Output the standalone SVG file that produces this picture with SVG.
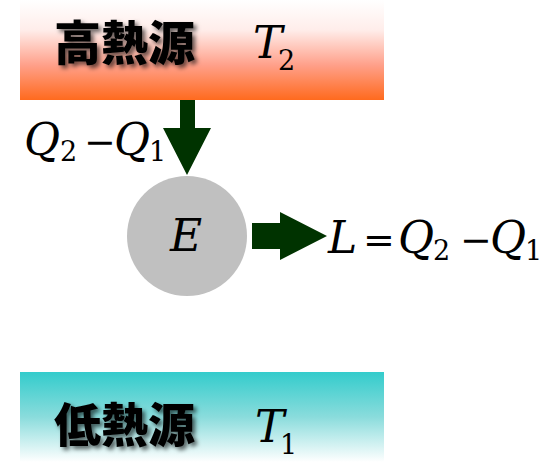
<svg xmlns="http://www.w3.org/2000/svg" width="548" height="462" viewBox="0 0 548 462">
<defs>
<linearGradient id="hot" x1="0" y1="0" x2="0" y2="1">
<stop offset="0" stop-color="#FFFFFF"/>
<stop offset="0.3" stop-color="#FFEDEA"/>
<stop offset="0.65" stop-color="#FFA08A"/>
<stop offset="1" stop-color="#FF6A1E"/>
</linearGradient>
<linearGradient id="cold" x1="0" y1="0" x2="0" y2="1">
<stop offset="0" stop-color="#33CCCC"/>
<stop offset="0.5" stop-color="#8ADCDC"/>
<stop offset="1" stop-color="#FFFFFF"/>
</linearGradient>
<filter id="sh" x="-10%" y="-20%" width="130%" height="150%">
<feGaussianBlur in="SourceAlpha" stdDeviation="2"/>
<feOffset dx="3" dy="3" result="b"/>
<feFlood flood-color="#000" flood-opacity="0.6"/>
<feComposite in2="b" operator="in"/>
<feMerge><feMergeNode/><feMergeNode in="SourceGraphic"/></feMerge>
</filter>
</defs>
<style>
.jp{font-family:"Noto Sans CJK JP","Noto Sans CJK SC",sans-serif;font-weight:900;font-size:47px;fill:#000}
.m{font-family:"DejaVu Serif",serif;font-size:44px;fill:#000}
.i{font-style:italic}
.s{font-size:27px;font-style:normal}
.mn{font-size:38px}
.arr{fill:#003300}
</style>
<g id="hot-source">
<rect x="20" y="0" width="364" height="100" fill="url(#hot)"/>
<text class="jp" x="54" y="60" filter="url(#sh)">高熱源</text>
<text class="m"><tspan class="i" x="253" y="58">T</tspan><tspan class="s" x="278" y="70">2</tspan></text>
</g>
<g id="cold-source">
<rect x="20" y="372" width="364" height="90" fill="url(#cold)"/>
<text class="jp" x="54" y="442" filter="url(#sh)">低熱源</text>
<text class="m"><tspan class="i" x="255" y="442">T</tspan><tspan class="s" x="280" y="454">1</tspan></text>
</g>
<g id="engine">
<circle cx="187" cy="236" r="60" fill="#C0C0C0"/>
<text class="m i" x="186" y="251" text-anchor="middle" font-size="38">E</text>
</g>
<g id="connectors">
<polygon class="arr" points="180,100 195,100 195,128 211,128 187,175 163,128 180,128"/>
<polygon class="arr" points="252,223 280,223 280,212 327,236 280,260 280,249 252,249"/>
</g>
<g id="labels">
<text class="m"><tspan class="i" x="24" y="155">Q</tspan><tspan class="s" x="60" y="161">2</tspan><tspan class="mn" x="84" y="155">−</tspan><tspan class="i" x="114" y="155">Q</tspan><tspan class="s" x="149" y="161">1</tspan></text>
<text class="m"><tspan class="i" x="328" y="253">L</tspan><tspan class="mn" x="363" y="253">=</tspan><tspan class="i" x="398" y="253">Q</tspan><tspan class="s" x="433" y="260">2</tspan><tspan class="mn" x="460" y="253">−</tspan><tspan class="i" x="490" y="253">Q</tspan><tspan class="s" x="525" y="260">1</tspan></text>
</g>
</svg>
